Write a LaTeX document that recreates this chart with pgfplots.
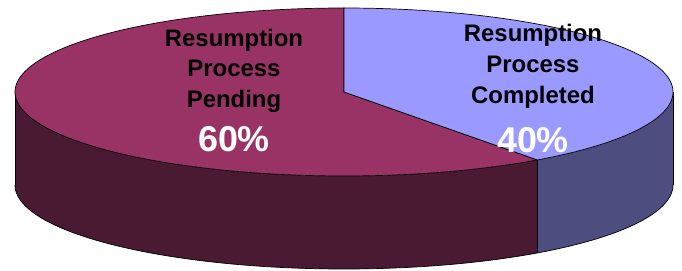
\documentclass[border=0pt]{standalone}
\usepackage{pgfplots}
\pgfplotsset{compat=1.18}
\usepgfplotslibrary{fillbetween}
\usepackage{fontspec}
\setmainfont{Liberation Sans}
\definecolor{pendtop}{HTML}{993366}
\definecolor{pendside}{HTML}{4A1A33}
\definecolor{comptop}{HTML}{9999FF}
\definecolor{compside}{HTML}{4D4D80}
% data (percent)
\def\completed{40}
\def\pending{60}
\pgfmathsetmacro\bnd{90-3.6*\completed}
\pgfmathsetmacro\bndp{\bnd+360}
\pgfmathsetmacro\bx{344+329*cos(\bnd)}
\pgfmathsetmacro\byt{179+84*sin(\bnd)}
\pgfmathsetmacro\byb{86+84*sin(\bnd)}
\begin{document}
\begin{tikzpicture}
\begin{axis}[width=682bp, height=271bp, scale only axis,
  xmin=0, xmax=682, ymin=0, ymax=271, axis lines=none, clip=false]
\addplot[draw=none, forget plot] coordinates {(0,0) (682,271)};
% sides
\addplot[draw=none, name path=pt, domain=-180:\bnd, samples=120] ({344+329*cos(x)},{179+84*sin(x)});
\addplot[draw=none, name path=pb, domain=-180:\bnd, samples=120] ({344+329*cos(x)},{86+84*sin(x)});
\addplot[pendside] fill between[of=pt and pb];
\addplot[draw=none, name path=ct, domain=\bnd:0, samples=80] ({344+329*cos(x)},{179+84*sin(x)});
\addplot[draw=none, name path=cb, domain=\bnd:0, samples=80] ({344+329*cos(x)},{86+84*sin(x)});
\addplot[compside] fill between[of=ct and cb];
\addplot[black, line width=0.7bp, domain=-180:0, samples=160] ({344+329*cos(x)},{86+84*sin(x)});
\addplot[black, line width=0.7bp] coordinates {(15,179) (15,86)};
\addplot[black, line width=0.7bp] coordinates {(673,179) (673,86)};
\addplot[black, line width=0.7bp] coordinates {(\bx,\byt) (\bx,\byb)};
% tops
\addplot[fill=pendtop, draw=black, line width=0.7bp, domain=90:\bndp, samples=160] ({344+329*cos(x)},{179+84*sin(x)}) -- (axis cs:344,179) -- cycle;
\addplot[fill=comptop, draw=black, line width=0.7bp, domain=\bnd:90, samples=120] ({344+329*cos(x)},{179+84*sin(x)}) -- (axis cs:344,179) -- cycle;
% labels
\node[anchor=base, font=\bfseries\fontsize{24}{28}\selectfont] at (axis cs:234,224) {Resumption};
\node[anchor=base, font=\bfseries\fontsize{24}{28}\selectfont] at (axis cs:234,194) {Process};
\node[anchor=base, font=\bfseries\fontsize{24}{28}\selectfont] at (axis cs:234,163) {Pending};
\node[anchor=base, text=white, font=\bfseries\fontsize{36}{40}\selectfont] at (axis cs:234,119) {60\%};
\node[anchor=base, font=\bfseries\fontsize{24}{28}\selectfont] at (axis cs:533,229) {Resumption};
\node[anchor=base, font=\bfseries\fontsize{24}{28}\selectfont] at (axis cs:533,198) {Process};
\node[anchor=base, font=\bfseries\fontsize{24}{28}\selectfont] at (axis cs:533,167) {Completed};
\node[anchor=base, text=white, font=\bfseries\fontsize{36}{40}\selectfont] at (axis cs:533,118) {40\%};
\end{axis}
\end{tikzpicture}
\end{document}
